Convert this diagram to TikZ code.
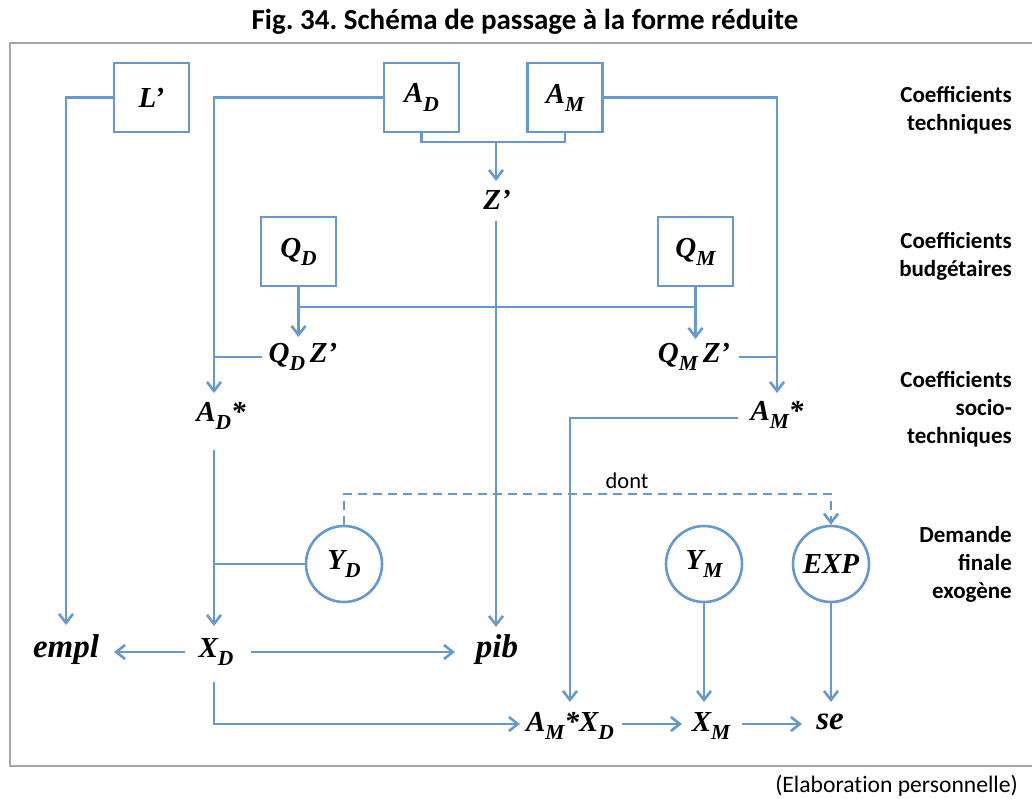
\documentclass[tikz,border=0pt]{standalone}
\usepackage{fontspec}
\setmainfont{Carlito}
\newfontfamily\mfont{Liberation Serif}
\usetikzlibrary{arrows.meta}
\frenchspacing
\definecolor{lblue}{HTML}{6699CC}
\definecolor{fgray}{HTML}{A6A6A6}
\newcommand\lowsub[1]{\raisebox{-0.28em}{\scalebox{0.74}{#1}}}
\tikzset{
  conn/.style={draw=lblue, line width=2.6pt},
  arr/.style={conn, -{Straight Barb[length=9pt,width=14pt]}},
  mlab/.style={font=\mfont\bfseries\itshape\fontsize{29}{31}\selectfont, inner sep=0pt},
  blab/.style={font=\mfont\bfseries\itshape\fontsize{33}{36}\selectfont, inner sep=0pt},
  boxnode/.style={mlab, draw=lblue, line width=2.6pt, minimum width=75pt, minimum height=69pt},
  circnode/.style={mlab, circle, draw=lblue, line width=2.6pt, minimum size=76pt},
  side/.style={font=\bfseries\fontsize{23}{28}\selectfont, align=right, anchor=east, inner sep=0pt}
}
\begin{document}
\begin{tikzpicture}[x=1pt,y=-1pt]
\useasboundingbox (0,0) rectangle (1032,798);
\fill[white] (0,0) rectangle (1032,798);
% frame
\draw[fgray, line width=1.6pt] (10,43) rectangle (1040,766);
% title and source
\node[font=\bfseries\fontsize{29}{32}\selectfont, inner sep=0pt] (title) at (525,22) {Fig. 34. Schéma de passage à la forme réduite};
\node[font=\fontsize{23.6}{26}\selectfont\addfontfeatures{Ligatures=NoCommon}, anchor=east, inner sep=0pt] (src) at (1018,786) {(Elaboration personnelle)};
% side labels
\node[side] (s1) at (1012,110) {Coefficients\\techniques};
\node[side] (s2) at (1012,256.5) {Coefficients\\budgétaires};
\node[side] (s3) at (1012,409.5) {Coefficients\\socio-\\techniques};
\node[side] (s4) at (1012,564.5) {Demande\\finale\\exogène};
% boxes
\node[boxnode] (L) at (151.5,97.5) {L’};
\node[boxnode] (AD) at (421.5,97.5) {A\lowsub{D}};
\node[boxnode] (AM) at (565,97.5) {A\lowsub{M}};
\node[boxnode] (QD) at (298.5,251.5) {Q\lowsub{D}};
\node[boxnode] (QM) at (695.5,251.5) {Q\lowsub{M}};
% circles
\node[circnode] (YD) at (344,564) {Y\lowsub{D}};
\node[circnode] (YM) at (704,564) {Y\lowsub{M}};
\node[circnode] (EXP) at (831,564) {EXP};
% text nodes
\node[mlab] (Z) at (497,200) {Z’};
\node[mlab] (QDZ) at (303,357) {Q\lowsub{D}\,Z’};
\node[mlab] (QMZ) at (694,357) {Q\lowsub{M}\,Z’};
\node[mlab] (ADs) at (221,416) {A\lowsub{D}*};
\node[mlab] (AMs) at (777,415) {A\lowsub{M}*};
\node[blab] (empl) at (66,650) {empl};
\node[mlab] (XD) at (216,652) {X\lowsub{D}};
\node[blab] (pib) at (497,650) {pib};
\node[mlab] (AMXD) at (570,726) {A\lowsub{M}*X\lowsub{D}};
\node[mlab] (XM) at (711,726) {X\lowsub{M}};
\node[blab] (se) at (830,722) {se};
\node[font=\fontsize{22.5}{24}\selectfont, inner sep=0pt] (dont) at (627,481) {dont};
% coordinates
\coordinate (emplTop) at (66,625);
\coordinate (adsTop) at (214,393);
\coordinate (amsTop) at (777,393);
\coordinate (zj) at (496,142);
\coordinate (zTop) at (496,181);
\coordinate (zBot) at (496,221);
\coordinate (pibTop) at (496,627);
\coordinate (qdj) at (298.5,307);
\coordinate (qmj) at (695.5,307);
\coordinate (qdTop) at (298.5,337);
\coordinate (qmTop) at (695.5,339);
\coordinate (qdzW) at (262,357);
\coordinate (qdzJ) at (214,357);
\coordinate (qmzE) at (739,357);
\coordinate (qmzJ) at (777,357);
\coordinate (amsW) at (738,418);
\coordinate (amxdTop) at (570,702);
\coordinate (adsBot) at (214,450);
\coordinate (xdTop) at (214,626);
\coordinate (ydJ) at (214,564);
\coordinate (xdW) at (185,652);
\coordinate (emplE) at (114,652);
\coordinate (xdE) at (251,652);
\coordinate (pibW) at (455,652);
\coordinate (xdBot) at (214,682);
\coordinate (amxdW) at (520,724);
\coordinate (amxdE) at (622,724);
\coordinate (xmW) at (682,724);
\coordinate (xmE) at (742,724);
\coordinate (seW) at (802,724);
\coordinate (xmTop) at (704,702);
\coordinate (seTop) at (831,702);
\coordinate (dashC) at (344,494);
% connectors
\draw[arr] (L.west) -| (emplTop);
\draw[arr] (AD.west) -| (adsTop);
\draw[arr] (AM.east) -| (amsTop);
\draw[conn] (AD.south) |- (zj) -| (AM.south);
\draw[arr] (zj) -- (zTop);
\draw[arr] (zBot) -- (pibTop);
\draw[conn] (qdj) -- (qmj);
\draw[arr] (QD.south) -- (qdTop);
\draw[arr] (QM.south) -- (qmTop);
\draw[conn] (qdzW) -- (qdzJ);
\draw[conn] (qmzE) -- (qmzJ);
\draw[arr] (amsW) -| (amxdTop);
\draw[arr] (adsBot) -- (xdTop);
\draw[conn] (YD.west) -- (ydJ);
\draw[arr] (xdW) -- (emplE);
\draw[arr] (xdE) -- (pibW);
\draw[arr] (xdBot) |- (amxdW);
\draw[arr] (amxdE) -- (xmW);
\draw[arr] (xmE) -- (seW);
\draw[arr] (YM.south) -- (xmTop);
\draw[arr] (EXP.south) -- (seTop);
\draw[arr, dash pattern=on 9pt off 6pt] (YD.north) -- (dashC) -| (EXP.north);
\end{tikzpicture}
\end{document}
